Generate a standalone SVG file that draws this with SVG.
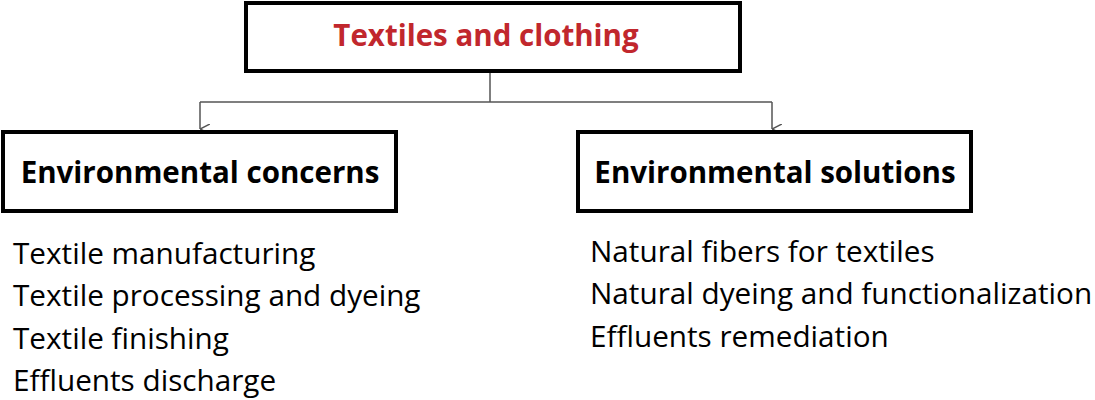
<svg xmlns="http://www.w3.org/2000/svg" width="1095" height="400" viewBox="0 0 1095 400">
<style>
.box{fill:#fff;stroke:#000;stroke-width:4}
.conn{fill:none;stroke:#555;stroke-width:1.5}
.title{font-family:"Open Sans","Noto Sans",sans-serif;font-weight:bold;font-size:29.5px;fill:#c1272d;text-anchor:middle}
.head{font-family:"Open Sans","Noto Sans",sans-serif;font-weight:bold;font-size:29.5px;fill:#000;text-anchor:middle}
.item{font-family:"Open Sans","Noto Sans",sans-serif;font-size:29.7px;fill:#000}
</style>
<defs>
<marker id="arr" viewBox="0 0 10 10" refX="5" refY="10" markerWidth="10" markerHeight="10" markerUnits="userSpaceOnUse" orient="auto">
<path d="M0,0 L5,10 L10,0" fill="none" stroke="#555" stroke-width="1.5"/>
</marker>
</defs>
<g id="connectors">
<line class="conn" x1="490" y1="72" x2="490" y2="102"/>
<line class="conn" x1="200" y1="102" x2="772" y2="102"/>
<path class="conn" d="M200,102 L200,129" marker-end="url(#arr)"/>
<path class="conn" d="M772,102 L772,129" marker-end="url(#arr)"/>
</g>
<g id="node-top">
<rect class="box" x="246" y="3" width="494" height="68"/>
<text class="title" x="486" y="46">Textiles and clothing</text>
</g>
<g id="node-concerns">
<rect class="box" x="3" y="132" width="393" height="79"/>
<text class="head" x="200" y="183">Environmental concerns</text>
</g>
<g id="node-solutions">
<rect class="box" x="578" y="132" width="393" height="79"/>
<text class="head" x="775" y="183">Environmental solutions</text>
</g>
<g id="list-concerns">
<text class="item" x="13" y="264">Textile manufacturing</text>
<text class="item" x="13" y="306">Textile processing and dyeing</text>
<text class="item" x="13" y="349">Textile finishing</text>
<text class="item" x="13" y="391">Effluents discharge</text>
</g>
<g id="list-solutions">
<text class="item" x="590" y="262">Natural fibers for textiles</text>
<text class="item" x="590" y="304">Natural dyeing and functionalization</text>
<text class="item" x="590" y="347">Effluents remediation</text>
</g>
</svg>
